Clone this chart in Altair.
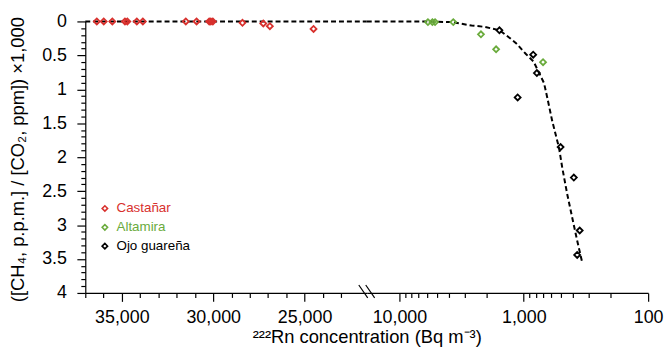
import altair as alt
import pandas as pd

# ---- data ----
sites = ["Castañar", "Altamira", "Ojo guareña"]
site_colors = ["#d8302d", "#6aab3c", "#000000"]

cas_x = [36370, 35990, 35520, 34830, 34700, 34180, 33850, 31500, 30910, 30220, 30130, 30020, 28400, 27260, 26900, 24510]
cas_y = [0, 0, 0, 0, 0, 0, 0, 0, 0, 0, 0, 0, 0.02, 0.03, 0.07, 0.11]

alt_x = [5900, 5430, 5170, 3690, 2210, 1670, 700]
alt_y = [0.01, 0.01, 0.01, 0.01, 0.19, 0.41, 0.60]

oj_x = [1570, 840, 785, 1120, 506, 396, 355, 372]
oj_y = [0.13, 0.49, 0.76, 1.12, 1.85, 2.30, 3.08, 3.44]

curve_x = [37000, 21600, 18300, 6200, 3800, 2630, 2060, 1570, 1305, 1154, 961, 835,
           752, 687, 646, 590, 521, 491, 448, 409, 373, 340]
curve_y = [0, 0, 0, 0, 0.01, 0.06, 0.08, 0.13, 0.24, 0.32, 0.48, 0.59,
           0.76, 0.91, 1.13, 1.47, 1.86, 2.15, 2.54, 2.88, 3.22, 3.54]

left_domain = [21600, 37000]
right_domain = [100, 18320]
left_ticks = list(range(23000, 37001, 1000))
right_ticks = [10000, 9000, 8000, 7000, 6000, 5000, 4000, 3000, 2000,
               1000, 900, 800, 700, 600, 500, 400, 300, 200, 100]
y_ticks = [round(i * 0.1, 1) for i in range(41)]

pts = pd.DataFrame({
    "x": cas_x + alt_x + oj_x,
    "y": cas_y + alt_y + oj_y,
    "site": ["Castañar"] * len(cas_x) + ["Altamira"] * len(alt_x) + ["Ojo guareña"] * len(oj_x),
})
curve = pd.DataFrame({"x": curve_x, "y": curve_y})

FONT = "Liberation Sans"
W, H = 284, 274
MAJOR, MINOR = 8.5, 4.5

ycale = alt.Scale(domain=[0, 4], reverse=True, nice=False, zero=False)
color_scale = alt.Scale(domain=sites, range=site_colors)

axis_common = dict(domainColor="black", domainWidth=1.2, tickColor="black", tickWidth=1.2,
                   tickSize=MAJOR,
                   labelFont=FONT, labelFontSize=18, labelColor="black", grid=False,
                   labelOverlap=False, labelFlush=False)


def minor_dash(major_test):
    # minor ticks: only the first MINOR px of the tick line is drawn
    return {"condition": {"test": "!(" + major_test + ")", "value": [MINOR, 20]}, "value": []}


label_color_expr = ("datum.value === 'Castañar' ? '#d8302d' : "
                    "(datum.value === 'Altamira' ? '#6aab3c' : '#000000')")
y_major = "abs(datum.value*2 - round(datum.value*2)) < 1e-6"
xl_major = "datum.value % 5000 === 0"
xr_major = "datum.value === 10000 || datum.value === 1000 || datum.value === 100"

# ---------- left (linear) panel ----------
xl = alt.X("x:Q", scale=alt.Scale(domain=left_domain, reverse=True, nice=False, zero=False),
           axis=alt.Axis(values=left_ticks,
                         labelExpr=xl_major + " ? format(datum.value, ',') : ''",
                         tickDash=minor_dash(xl_major),
                         labelPadding=7, title=None, **axis_common))
yl = alt.Y("y:Q", scale=ycale,
           axis=alt.Axis(values=y_ticks,
                         labelExpr=y_major + " ? format(datum.value, '.1~f') : ''",
                         tickDash=minor_dash(y_major),
                         labelPadding=10.5,
                         title="([CH₄, p.p.m.] / [CO₂, ppm]) ×1,000",
                         titleFont=FONT, titleFontSize=18.5, titleFontWeight="normal", titleColor="black",
                         titleX=-68.5, titleY=H / 2 + 2, titleAlign="center", titleBaseline="middle", titleAngle=270,
                         **axis_common))

left_line = alt.Chart(curve).transform_filter(alt.datum.x >= left_domain[0]).mark_line(
    color="black", strokeWidth=2, strokeDash=[5, 3]).encode(x=xl, y=yl)
left_pts = alt.Chart(pts).transform_filter(alt.datum.x >= left_domain[0]).mark_point(
    shape="diamond", filled=False, size=36, strokeWidth=1.8, opacity=1).encode(
    x=xl, y=yl,
    color=alt.Color("site:N", scale=color_scale,
                    legend=alt.Legend(title=None, orient="none", legendX=13, legendY=182,
                                      symbolType="diamond", symbolSize=30, symbolStrokeWidth=1.6,
                                      symbolFillColor="white",
                                      labelFont=FONT, labelFontSize=13.5, labelOffset=5,
                                      labelColor={"expr": label_color_expr},
                                      rowPadding=4, padding=0)))
left = alt.layer(left_line, left_pts).properties(width=W, height=H)

# ---------- right (log) panel ----------
xr = alt.X("x:Q", scale=alt.Scale(type="log", domain=right_domain, reverse=True, nice=False, zero=False),
           axis=alt.Axis(values=right_ticks,
                         labelExpr="(" + xr_major + ") ? format(datum.value, ',') : ''",
                         tickDash=minor_dash(xr_major),
                         labelPadding=7,
                         title="²²²Rn concentration (Bq m⁻³)",
                         titleFont=FONT, titleFontSize=18.5, titleFontWeight="normal", titleColor="black",
                         titleX=0, titleY=50, titleAlign="center", titleBaseline="alphabetic",
                         **axis_common))
yr = alt.Y("y:Q", scale=ycale, axis=None)

right_line = alt.Chart(curve).transform_filter(alt.datum.x <= right_domain[1]).mark_line(
    color="black", strokeWidth=2, strokeDash=[5, 3]).encode(x=xr, y=yr)
right_pts = alt.Chart(pts).transform_filter(alt.datum.x <= right_domain[1]).mark_point(
    shape="diamond", filled=False, size=36, strokeWidth=1.8, opacity=1).encode(
    x=xr, y=yr, color=alt.Color("site:N", scale=color_scale, legend=None))
# axis-break marks
brk = pd.DataFrame({"k": [0]})
slash1 = alt.Chart(brk).mark_rule(color="black", strokeWidth=1.2).encode(
    x=alt.value(-8), x2=alt.value(1), y=alt.value(H - 8), y2=alt.value(H + 5))
slash2 = alt.Chart(brk).mark_rule(color="black", strokeWidth=1.2).encode(
    x=alt.value(-1), x2=alt.value(8), y=alt.value(H - 8), y2=alt.value(H + 5))
right = alt.layer(right_line, right_pts, slash1, slash2).properties(width=W, height=H)

chart = alt.hconcat(left, right, spacing=0, bounds="flush").resolve_scale(color="independent").properties(
    padding={"left": 0, "top": 3, "right": 0, "bottom": 0}
).configure_view(stroke=None)

chart.save("out.html", embed_options={"renderer": "svg", "actions": False})
